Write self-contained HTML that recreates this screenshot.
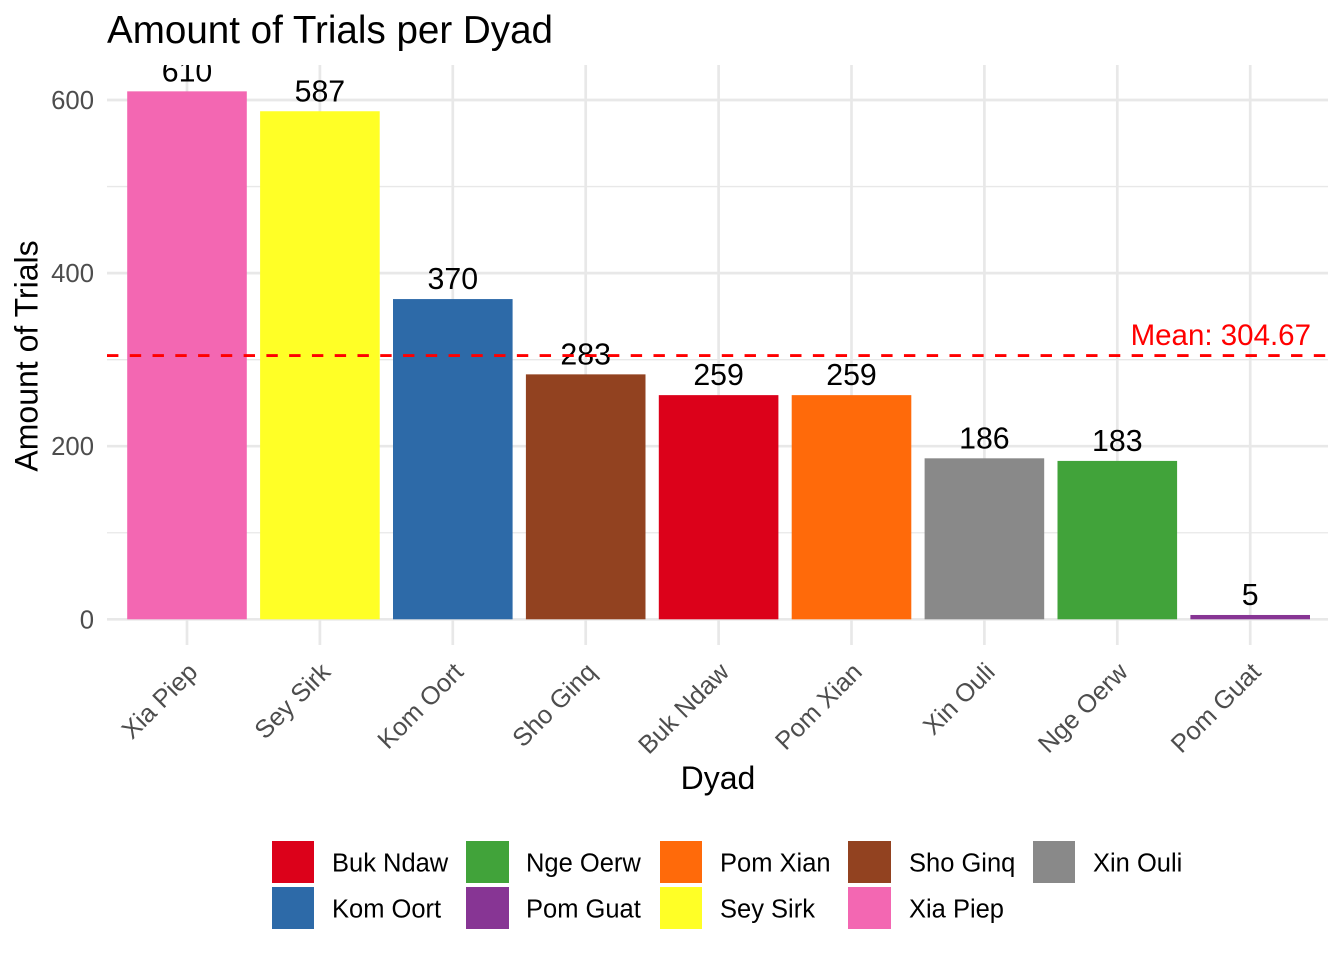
<!DOCTYPE html>
<html lang="en">
<head>
<meta charset="utf-8">
<title>Amount of Trials per Dyad</title>
<style>
  html, body { margin: 0; padding: 0; background: #ffffff; }
  svg { display: block; font-family: "Liberation Sans", Arial, sans-serif; }
</style>
</head>
<body>
<svg id="chart" xmlns="http://www.w3.org/2000/svg" width="1344" height="960" viewBox="0 0 1344 960">
  <defs>
    <clipPath id="panel-clip"><rect x="107" y="65" width="1221" height="581"></rect></clipPath>
  </defs>
  <text x="107" y="43" font-size="38.6" fill="#000000">Amount of Trials per Dyad</text>
  <g id="grid"></g>
  <g id="marks" clip-path="url(#panel-clip)"></g>
  <g id="y-axis"></g>
  <g id="x-axis"></g>
  <text x="718" y="789" font-size="32" text-anchor="middle" fill="#000000">Dyad</text>
  <text transform="translate(37.5 356) rotate(-90)" font-size="32" text-anchor="middle" fill="#000000">Amount of Trials</text>
  <g id="legend"></g>
</svg>
<script>
const categories = ["Xia Piep", "Sey Sirk", "Kom Oort", "Sho Ginq", "Buk Ndaw", "Pom Xian", "Xin Ouli", "Nge Oerw", "Pom Guat"];
const trialCounts = [610, 587, 370, 283, 259, 259, 186, 183, 5];
const majorTicks = [0, 200, 400, 600];
const minorTicks = [100, 300, 500];
const legendRowOne = ["Buk Ndaw", "Nge Oerw", "Pom Xian", "Sho Ginq", "Xin Ouli"];
const legendRowTwo = ["Kom Oort", "Pom Guat", "Sey Sirk", "Xia Piep"];

const dyadColor = {
  "Buk Ndaw": "#DC011A", "Kom Oort": "#2D6AA8", "Nge Oerw": "#41A33A",
  "Pom Guat": "#873594", "Pom Xian": "#FF6A0A", "Sey Sirk": "#FFFF26",
  "Sho Ginq": "#924220", "Xia Piep": "#F367B2", "Xin Ouli": "#898989"
};
const legendColumns = [
  { keyX: 272, keyW: 42, textX: 332 },
  { keyX: 466, keyW: 43, textX: 526 },
  { keyX: 660, keyW: 42, textX: 720 },
  { keyX: 848, keyW: 43, textX: 909 },
  { keyX: 1033, keyW: 42, textX: 1093 }
];
const legendRows = [{ y: 841, h: 42, base: 871.5 }, { y: 887, h: 42, base: 917.5 }];

const NS = "http://www.w3.org/2000/svg";
const panel = { left: 107, right: 1328, top: 65, bottom: 645 };
const xStep = 132.9;
const barWidth = 119.6;
const xScale = function (i) { return 187 + i * xStep; };
const yScale = function (v) { return 619.3 - v * 0.8655; };

function make(tag, attrs, parent, text) {
  const el = document.createElementNS(NS, tag);
  for (const k in attrs) el.setAttribute(k, attrs[k]);
  if (text !== undefined) el.textContent = text;
  parent.appendChild(el);
  return el;
}
const grid = document.getElementById("grid");
const marks = document.getElementById("marks");
const yAxis = document.getElementById("y-axis");
const xAxis = document.getElementById("x-axis");
const legend = document.getElementById("legend");

minorTicks.forEach(function (t) {
  const el = make("line", { x1: panel.left, x2: panel.right, y1: yScale(t), y2: yScale(t), stroke: "#E8E8E8", "stroke-width": 1.35 }, grid);
  
  
});
majorTicks.forEach(function (t) {
  const el = make("line", { x1: panel.left, x2: panel.right, y1: yScale(t), y2: yScale(t), stroke: "#E8E8E8", "stroke-width": 2.7 }, grid);
  
  
  const lab = make("text", { x: 94, y: yScale(t) + 9, "font-size": 25.7, "text-anchor": "end", fill: "#4D4D4D" }, yAxis, String(t));
  
  
});
categories.forEach(function (c, i) {
  const el = make("line", { x1: xScale(i), x2: xScale(i), y1: panel.top, y2: panel.bottom, stroke: "#E8E8E8", "stroke-width": 2.7 }, grid);
  
  
  const lab = make("text", { transform: "translate(" + (xScale(i) + 12) + " 673.5) rotate(-45)", "font-size": 25.4, "text-anchor": "end", fill: "#4D4D4D" }, xAxis, c);
  
  
});
categories.forEach(function (c, i) {
  const bar = make("rect", { x: xScale(i) - barWidth / 2, y: yScale(trialCounts[i]), width: barWidth, height: yScale(0) - yScale(trialCounts[i]), fill: dyadColor[c] }, marks);
  
  
});
categories.forEach(function (c, i) {
  const lab = make("text", { x: xScale(i), y: yScale(trialCounts[i]) - 10, "font-size": 30.3, "text-anchor": "middle", fill: "#000000" }, marks, String(trialCounts[i]));
  
  
});

const meanValue = trialCounts.reduce(function (a, b) { return a + b; }, 0) / trialCounts.length;
const meanLine = make("line", { x1: panel.left, x2: panel.right, y1: yScale(meanValue), y2: yScale(meanValue), stroke: "#FF0000", "stroke-width": 2.9, "stroke-dasharray": "11.4 11.37" }, marks);


const meanLabel = make("text", { x: 1311, y: yScale(meanValue) - 10.5, "font-size": 29.5, "text-anchor": "end", fill: "#FF0000" }, marks, "Mean: " + meanValue.toFixed(2));



[legendRowOne, legendRowTwo].forEach(function (row, r) {
  row.forEach(function (name, c) {
    const g = make("g", {}, legend);
    
    
    const key = make("rect", { x: legendColumns[c].keyX, y: legendRows[r].y, width: legendColumns[c].keyW, height: legendRows[r].h, fill: dyadColor[name] }, g);
    
    
    const txt = make("text", { x: legendColumns[c].textX, y: legendRows[r].base, "font-size": 25.5, fill: "#000000" }, g, name);
    
    
  });
});
</script>
</body>
</html>
